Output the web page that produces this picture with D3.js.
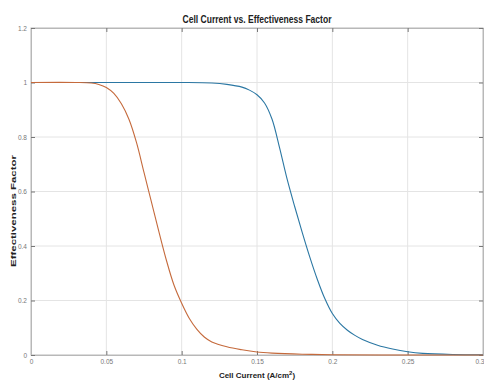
<!DOCTYPE html>
<html><head><meta charset="utf-8">
<script src="https://cdn.jsdelivr.net/npm/d3@7"></script>
<style>
body{margin:0;background:#fff;}
svg{display:block;font-family:"Liberation Sans",Arial,sans-serif;}
</style></head>
<body><svg id="c" width="484" height="380"></svg>
<script>
const xTicks = [0, 0.05, 0.1, 0.15, 0.2, 0.25, 0.3];
const xTickLabels = ["0", "0.05", "0.1", "0.15", "0.2", "0.25", "0.3"];
const yTicks = [0, 0.2, 0.4, 0.6, 0.8, 1, 1.2];
const yTickLabels = ["0", "0.2", "0.4", "0.6", "0.8", "1", "1.2"];

const blueX = [0, 0.05, 0.1, 0.12, 0.13, 0.14, 0.145, 0.15, 0.155, 0.16, 0.165, 0.17, 0.175, 0.18, 0.185, 0.19, 0.195, 0.2, 0.205, 0.21, 0.215, 0.22, 0.23, 0.24, 0.25, 0.26, 0.28, 0.3];
const blueY = [1, 1, 1, 0.998, 0.993, 0.983, 0.972, 0.955, 0.925, 0.865, 0.76, 0.645, 0.545, 0.45, 0.36, 0.278, 0.207, 0.152, 0.116, 0.091, 0.072, 0.057, 0.036, 0.022, 0.012, 0.006, 0.002, 0.001];

const orangeX = [0, 0.03, 0.04, 0.045, 0.05, 0.055, 0.06, 0.065, 0.07, 0.075, 0.08, 0.085, 0.09, 0.095, 0.1, 0.105, 0.11, 0.115, 0.12, 0.13, 0.14, 0.15, 0.16, 0.18, 0.2, 0.25, 0.3];
const orangeY = [1, 1, 0.998, 0.993, 0.982, 0.96, 0.922, 0.865, 0.78, 0.67, 0.56, 0.45, 0.345, 0.255, 0.19, 0.135, 0.095, 0.066, 0.048, 0.03, 0.019, 0.011, 0.007, 0.003, 0.001, 0, 0];

const svg = d3.select("#c");
const L = 31, R = 483, T = 28, B = 355;
const x = d3.scaleLinear().domain([0, 0.3]).range([L, R]);
const y = d3.scaleLinear().domain([0, 1.2]).range([B, T]);

// grid
svg.append("g").selectAll("line").data(xTicks.slice(1, -1)).join("line")
  .attr("x1", d => x(d)).attr("x2", d => x(d)).attr("y1", T).attr("y2", B)
  .attr("stroke", "#e4e4e4").attr("stroke-width", 1);
svg.append("g").selectAll("line").data(yTicks.slice(1, -1)).join("line")
  .attr("y1", d => y(d)).attr("y2", d => y(d)).attr("x1", L).attr("x2", R)
  .attr("stroke", "#e4e4e4").attr("stroke-width", 1);

// box
svg.append("rect").attr("x", L).attr("y", T).attr("width", R - L).attr("height", B - T)
  .attr("fill", "none").attr("stroke", "#b8b8b8").attr("stroke-width", 1);

// axes (tick marks inward)
const axB = d3.axisBottom(x).tickValues(xTicks).tickSize(-4).tickPadding(4)
  .tickFormat((d, i) => xTickLabels[i]);
const gB = svg.append("g").attr("transform", `translate(0,${B})`).call(axB);
const axTop = d3.axisTop(x).tickValues(xTicks).tickSize(-4).tickFormat("");
const gT = svg.append("g").attr("transform", `translate(0,${T})`).call(axTop);
const axL = d3.axisLeft(y).tickValues(yTicks).tickSize(-4).tickPadding(4)
  .tickFormat((d, i) => yTickLabels[i]);
const gL = svg.append("g").attr("transform", `translate(${L},0)`).call(axL);
const axR = d3.axisRight(y).tickValues(yTicks).tickSize(-4).tickFormat("");
const gR = svg.append("g").attr("transform", `translate(${R},0)`).call(axR);
[gB, gT, gL, gR].forEach(g => {
  g.select(".domain").attr("stroke", "#b8b8b8");
  g.selectAll(".tick line").attr("stroke", "#777");
  g.selectAll(".tick text").attr("fill", "#777").attr("font-size", 6.5)
    .attr("font-family", "'Liberation Sans',Arial,sans-serif");
});
gB.selectAll(".tick text").filter((d, i) => i === xTicks.length - 1).attr("text-anchor", "end").attr("dx", 1);

// lines
const line = d3.line().x(d => x(d[0])).y(d => y(d[1])).curve(d3.curveCatmullRom.alpha(0.5));
svg.append("path").datum(blueX.map((v, i) => [v, blueY[i]]))
  .attr("d", line).attr("fill", "none").attr("stroke", "#2b77a3").attr("stroke-width", 1.1);
svg.append("path").datum(orangeX.map((v, i) => [v, orangeY[i]]))
  .attr("d", line).attr("fill", "none").attr("stroke", "#c56a3c").attr("stroke-width", 1.1);

// title & labels
svg.append("text").attr("x", 257).attr("y", 23).attr("text-anchor", "middle")
  .attr("font-size", 10).attr("font-weight", "bold").attr("fill", "#222")
  .attr("textLength", 149).attr("lengthAdjust", "spacingAndGlyphs")
  .text("Cell Current vs. Effectiveness Factor");
const xl = svg.append("text").attr("x", 257).attr("y", 378).attr("text-anchor", "middle")
  .attr("font-size", 8).attr("font-weight", "bold").attr("fill", "#222");
xl.append("tspan").text("Cell Current (A/cm");
xl.append("tspan").attr("font-size", 6).attr("dy", -3).text("2");
xl.append("tspan").attr("dy", 3).text(")");
svg.append("text").attr("transform", "translate(16,211) rotate(-90)").attr("text-anchor", "middle")
  .attr("font-size", 8).attr("font-weight", "bold").attr("fill", "#222")
  .attr("textLength", 112).attr("lengthAdjust", "spacingAndGlyphs")
  .text("Effectiveness Factor");
</script></body></html>
